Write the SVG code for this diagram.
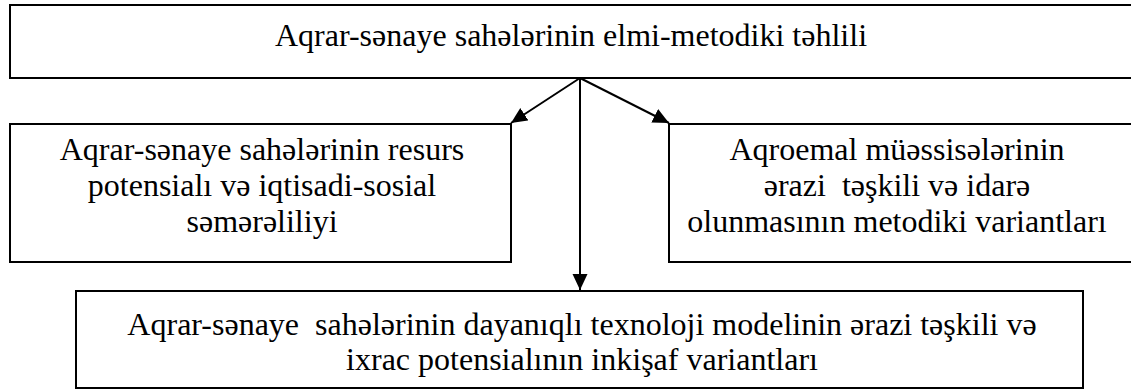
<svg xmlns="http://www.w3.org/2000/svg" width="1131" height="390" viewBox="0 0 1131 390">
<style>
.box{fill:#fff;stroke:#000;stroke-width:2}
.t{font-family:'Liberation Serif','Times New Roman',Times,serif;font-size:32px;fill:#000;text-anchor:middle}
.c{stroke:#000;stroke-width:2;fill:none}
</style>
<defs>
<marker id="ah" markerUnits="userSpaceOnUse" markerWidth="17" markerHeight="16" refX="16" refY="7.5" orient="auto">
<path d="M0,0 L16,7.5 L0,15 z" fill="#000"/>
</marker>
</defs>
<rect width="1131" height="390" fill="#fff"/>
<g id="connectors">
<line class="c" x1="580" y1="78" x2="511" y2="123" marker-end="url(#ah)"/>
<line class="c" x1="580" y1="78" x2="669" y2="123" marker-end="url(#ah)"/>
<line class="c" x1="580" y1="78" x2="580" y2="290" marker-end="url(#ah)" stroke-width="1.6"/>
</g>
<g id="top">
<rect class="box" x="10" y="5" width="1125" height="73"/>
<text class="t" x="571" y="46" xml:space="preserve">Aqrar-sənaye sahələrinin elmi-metodiki təhlili</text>
</g>
<g id="left">
<rect class="box" x="10" y="124" width="501" height="138"/>
<text class="t" x="262" y="160">Aqrar-sənaye sahələrinin resurs</text>
<text class="t" x="262" y="196">potensialı və iqtisadi-sosial</text>
<text class="t" x="262" y="232">səmərəliliyi</text>
</g>
<g id="right">
<rect class="box" x="669" y="124" width="470" height="138"/>
<text class="t" x="897" y="160">Aqroemal müəssisələrinin</text>
<text class="t" x="897" y="196" xml:space="preserve">ərazi  təşkili və idarə</text>
<text class="t" x="897" y="232">olunmasının metodiki variantları</text>
</g>
<g id="bottom">
<rect class="box" x="76" y="291" width="1007" height="97"/>
<text class="t" x="582" y="335" xml:space="preserve">Aqrar-sənaye  sahələrinin dayanıqlı texnoloji modelinin ərazi təşkili və</text>
<text class="t" x="582" y="370">ixrac potensialının inkişaf variantları</text>
</g>
</svg>
